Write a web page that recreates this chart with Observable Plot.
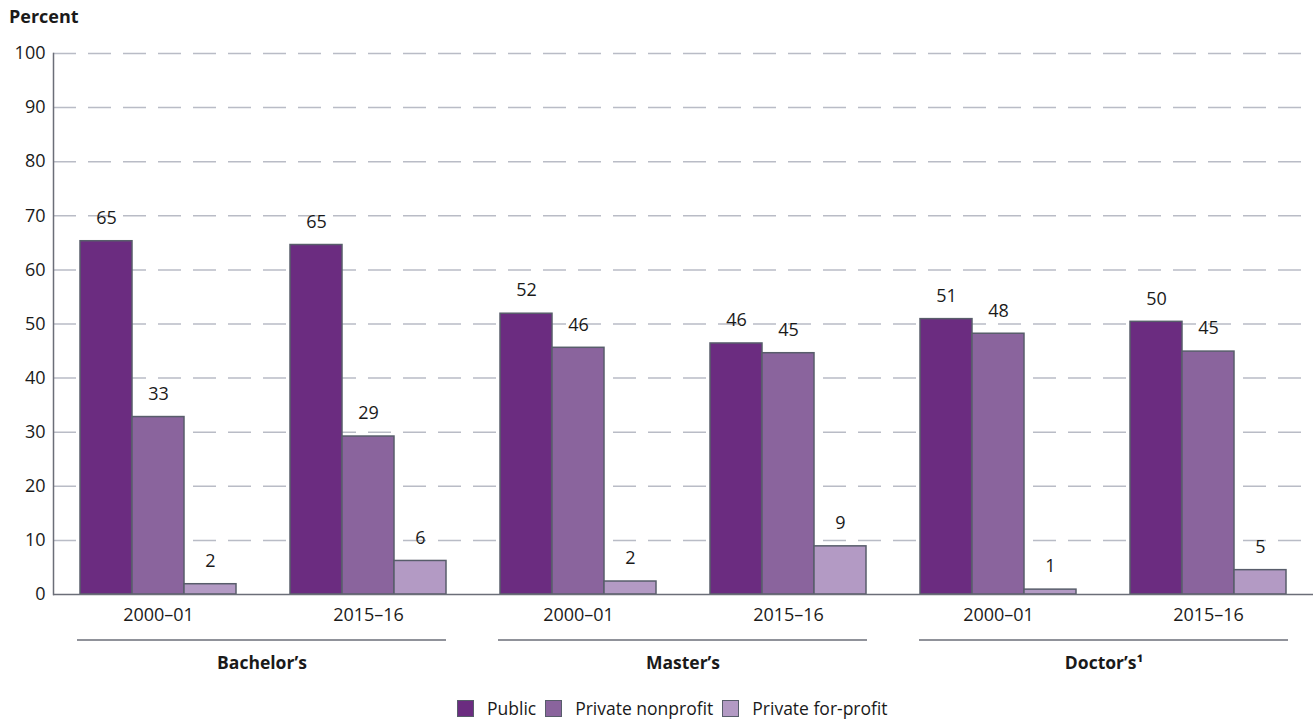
<!DOCTYPE html>
<html>
<head>
<meta charset="utf-8">
<script src="https://cdn.jsdelivr.net/npm/d3@7"></script>
<script src="https://cdn.jsdelivr.net/npm/@observablehq/plot@0.6"></script>
<style>
  html, body { margin: 0; padding: 0; background: #fff; }
  #wrap { position: relative; width: 1315px; height: 719px; font-family: "Open Sans", sans-serif; color: #1a1a1a; }
  #ylabel { position: absolute; left: 9px; top: 4px; font-weight: bold; font-size: 18px; }
  #main { position: absolute; left: 0; top: 0; }
  #groups { position: absolute; left: 0; top: 630px; }
  #legend { position: absolute; left: 457px; top: 696px; display: flex; align-items: center; font-size: 17.5px; }
  .sw { width: 17px; height: 17px; border: 1.5px solid #585d6b; margin-right: 13px; box-sizing: border-box; }
  .lab { margin-right: 9px; }
</style>
</head>
<body>
<div id="wrap">
  <div id="main"></div>
  <div id="groups"></div>
  <div id="ylabel">Percent</div>
  <div id="legend"></div>
</div>
<script>
const degrees = ["Bachelor’s", "Master’s", "Doctor’s¹"];
const periods = ["2000–01", "2015–16"];
const sectors = ["Public", "Private nonprofit", "Private for-profit"];
// order: Bachelor's 2000–01, 2015–16, Master's 2000–01, 2015–16, Doctor's 2000–01, 2015–16
const publicValues    = [65.3, 64.6, 51.9, 46.4, 50.9, 50.4];
const nonprofitValues = [32.8, 29.2, 45.6, 44.6, 48.2, 44.9];
const forprofitValues = [1.9, 6.2, 2.4, 8.9, 0.9, 4.5];
const colors = ["#6b2c80", "#8a649d", "#b39ac4"];
const yTicks = [0, 10, 20, 30, 40, 50, 60, 70, 80, 90, 100];

const seriesValues = [publicValues, nonprofitValues, forprofitValues];
const keys = [];
const rows = [];
degrees.forEach((d, di) => periods.forEach((p, pi) => {
  const key = d + "|" + p;
  const idx = di * periods.length + pi;
  keys.push(key);
  sectors.forEach((s, si) => rows.push({key, degree: d, period: p, sector: s, value: seriesValues[si][idx]}));
}));

const W = 1315, ML = 50, MR = 0;
const barPad = 0.49;
const F = (W - ML - MR) / keys.length;           // facet width
const b = F / (sectors.length + 2 * barPad);     // bar width
const gap = barPad * b;
const grpOuter = gap / (2 * F);
const grpInner = (2 * gap) / (2 * F);

const gridColor = "#b9bcc6";
const axisColor = "#6b6e78";
const barStroke = "#585d6b";

const main = Plot.plot({
  width: W, height: 630,
  marginTop: 53, marginBottom: 36, marginLeft: ML, marginRight: MR,
  style: {fontFamily: "Open Sans, sans-serif", fontSize: "18px", color: "#1a1a1a", background: "transparent"},
  fx: {domain: keys, padding: 0, label: null, axis: null},
  x: {domain: sectors, paddingInner: 0, paddingOuter: barPad, axis: null},
  y: {domain: [0, 100], label: null, axis: null},
  color: {domain: sectors, range: colors},
  marks: [
    Plot.ruleY(yTicks.filter(t => t > 0), {stroke: gridColor, strokeWidth: 1.5, strokeDasharray: "23,12"}),
    Plot.barY(rows, {fx: "key", x: "sector", y: "value", fill: "sector", stroke: barStroke, strokeWidth: 1.5}),
    Plot.text(rows, {fx: "key", x: "sector", y: "value", text: d => String(Math.round(d.value)), dy: -23, fill: "#1a1a1a"}),
    Plot.ruleY([0], {stroke: axisColor, strokeWidth: 1.5}),
    Plot.axisY({ticks: yTicks, tickSize: 0, tickPadding: 8, label: null}),
    Plot.axisFx({anchor: "bottom", tickSize: 0, tickPadding: 14, tickFormat: k => k.split("|")[1], label: null}),
    Plot.frame({anchor: "left", facet: "super", stroke: axisColor, strokeWidth: 1.5})
  ]
});
document.getElementById("main").appendChild(main);

const groups = Plot.plot({
  width: W, height: 52,
  marginTop: 0, marginBottom: 0, marginLeft: ML, marginRight: MR,
  style: {fontFamily: "Open Sans, sans-serif", fontSize: "17.5px", color: "#1a1a1a", background: "transparent"},
  x: {domain: degrees, paddingInner: grpInner, paddingOuter: grpOuter, axis: null},
  y: {domain: [0, 1], range: [9.5, 33], axis: null},
  marks: [
    Plot.tickY(degrees, {x: d => d, y: 0, stroke: axisColor, strokeWidth: 1.5}),
    Plot.text(degrees, {x: d => d, y: 1, text: d => d, fontWeight: "bold", fill: "#1a1a1a"})
  ]
});
document.getElementById("groups").appendChild(groups);

const legend = d3.select("#legend");
sectors.forEach((s, i) => {
  legend.append("div").attr("class", "sw").style("background", colors[i]);
  legend.append("div").attr("class", "lab").text(s);
});
</script>
</body>
</html>
